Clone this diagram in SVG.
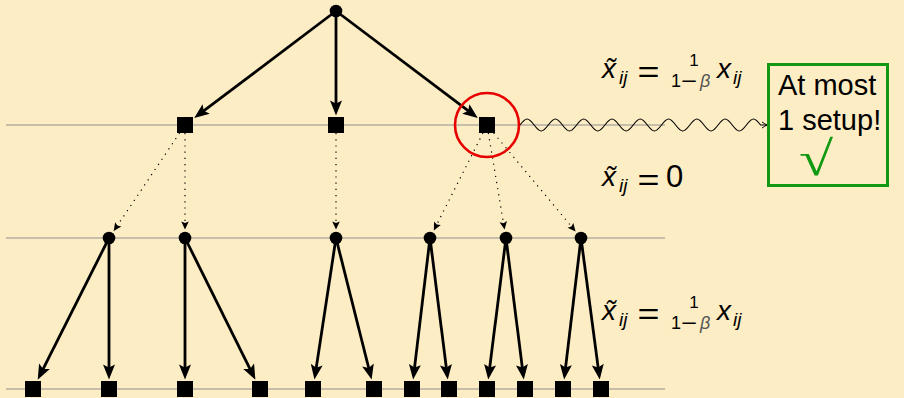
<svg xmlns="http://www.w3.org/2000/svg" width="904" height="398" viewBox="0 0 904 398">
<style>
.ln{stroke:#8f8f8f;stroke-width:1.2}
.arr{stroke:#000;stroke-width:2.8;fill:none;marker-end:url(#ah)}
.dot{stroke:#000;stroke-width:1.2;stroke-dasharray:1.2 5;fill:none;marker-end:url(#dh)}
.f{font-family:"Liberation Sans",Arial,sans-serif;fill:#000}
.it{font-style:italic}
</style>
<defs>
<marker id="ah" markerUnits="userSpaceOnUse" viewBox="0 0 16 14" markerWidth="16" markerHeight="14" refX="9" refY="6" orient="auto" overflow="visible"><path d="M0,0 L15,6 L0,12 L3,6 z" fill="#000"/></marker>
<marker id="dh" markerUnits="userSpaceOnUse" viewBox="0 0 9 8" markerWidth="9" markerHeight="8" refX="8" refY="3.75" orient="auto" overflow="visible"><path d="M0,0 L8,3.75 L0,7.5 L1.5,3.75 z" fill="#000"/></marker>
<marker id="wh" markerUnits="userSpaceOnUse" viewBox="-1 -1 8 8" markerWidth="8" markerHeight="8" refX="5" refY="3" orient="auto" overflow="visible"><path d="M0,0 Q3,2.2 5,3 Q3,3.8 0,6" fill="none" stroke="#000" stroke-width="1"/></marker>
</defs>
<rect width="904" height="398" fill="#fdedc4"/>
<g id="levels">
<line class="ln" x1="6" y1="125" x2="665" y2="125" stroke="#808080"/>
<line class="ln" x1="6" y1="238" x2="665" y2="238"/>
<line class="ln" x1="6" y1="389" x2="665" y2="389"/>
</g>
<g id="connectors">
<line class="arr" x1="336" y1="11" x2="198.99" y2="114.44"/>
<line class="arr" x1="336" y1="11" x2="336" y2="109.5"/>
<line class="arr" x1="336" y1="11" x2="473.01" y2="114.44"/>
<line class="dot" x1="179.62" y1="133" x2="113.74" y2="230.95"/>
<line class="dot" x1="185" y1="133" x2="185" y2="229.5"/>
<line class="dot" x1="336" y1="133" x2="336" y2="229.5"/>
<line class="dot" x1="482.96" y1="133" x2="433.83" y2="230.41"/>
<line class="dot" x1="488.35" y1="133" x2="504.59" y2="229.62"/>
<line class="dot" x1="493.66" y1="133" x2="575.56" y2="231.47"/>
<line class="arr" x1="109" y1="238" x2="40.40" y2="374.30"/>
<line class="arr" x1="109" y1="238" x2="109" y2="373.5"/>
<line class="arr" x1="185" y1="238" x2="185" y2="373.5"/>
<line class="arr" x1="185" y1="238" x2="252.69" y2="374.28"/>
<line class="arr" x1="336" y1="238" x2="315.35" y2="373.59"/>
<line class="arr" x1="336" y1="238" x2="370.16" y2="373.73"/>
<line class="arr" x1="430" y1="238" x2="413.84" y2="373.55"/>
<line class="arr" x1="430" y1="238" x2="447.05" y2="373.56"/>
<line class="arr" x1="506" y1="238" x2="488.95" y2="373.56"/>
<line class="arr" x1="506" y1="238" x2="523.05" y2="373.56"/>
<line class="arr" x1="581" y1="238" x2="564.84" y2="373.55"/>
<line class="arr" x1="581" y1="238" x2="598.96" y2="373.57"/>
<path id="wave" d="M520,125 c2.307,-3.074 4.514,-6 7.075,-6 s4.768,2.926 7.075,6 s4.514,6 7.075,6 s4.768,-2.926 7.075,-6 s4.514,-6 7.075,-6 s4.768,2.926 7.075,6 s4.514,6 7.075,6 s4.768,-2.926 7.075,-6 s4.514,-6 7.075,-6 s4.768,2.926 7.075,6 s4.514,6 7.075,6 s4.768,-2.926 7.075,-6 s4.514,-6 7.075,-6 s4.768,2.926 7.075,6 s4.514,6 7.075,6 s4.768,-2.926 7.075,-6 s4.514,-6 7.075,-6 s4.768,2.926 7.075,6 s4.514,6 7.075,6 s4.768,-2.926 7.075,-6 s4.514,-6 7.075,-6 s4.768,2.926 7.075,6 s4.514,6 7.075,6 s4.768,-2.926 7.075,-6 s4.514,-6 7.075,-6 s4.768,2.926 7.075,6 s4.514,6 7.075,6 s4.768,-2.926 7.075,-6 s4.514,-6 7.075,-6 s4.768,2.926 7.075,6 s4.514,6 7.075,6 s4.768,-2.926 7.075,-6 s4.514,-6 7.075,-6 s4.768,2.926 7.075,6 l6.5,0" fill="none" stroke="#000" stroke-width="1.1" marker-end="url(#wh)"/>
</g>
<g id="root"><circle cx="336" cy="11" r="6.3" fill="#000"/></g>
<g id="s1a"><rect x="177" y="117" width="16" height="16" fill="#000"/></g>
<g id="s1b"><rect x="328" y="117" width="16" height="16" fill="#000"/></g>
<g id="s1c"><rect x="479" y="117" width="16" height="16" fill="#000"/></g>
<g id="c2a"><circle cx="109" cy="238" r="6.3" fill="#000"/></g>
<g id="c2b"><circle cx="185" cy="238" r="6.3" fill="#000"/></g>
<g id="c2c"><circle cx="336" cy="238" r="6.3" fill="#000"/></g>
<g id="c2d"><circle cx="430" cy="238" r="6.3" fill="#000"/></g>
<g id="c2e"><circle cx="506" cy="238" r="6.3" fill="#000"/></g>
<g id="c2f"><circle cx="581" cy="238" r="6.3" fill="#000"/></g>
<g id="leaves" fill="#000">
<rect x="25" y="381" width="16" height="16"/>
<rect x="101" y="381" width="16" height="16"/>
<rect x="177" y="381" width="16" height="16"/>
<rect x="252" y="381" width="16" height="16"/>
<rect x="305" y="381" width="16" height="16"/>
<rect x="366" y="381" width="16" height="16"/>
<rect x="404" y="381" width="16" height="16"/>
<rect x="441" y="381" width="16" height="16"/>
<rect x="479" y="381" width="16" height="16"/>
<rect x="517" y="381" width="16" height="16"/>
<rect x="555" y="381" width="16" height="16"/>
<rect x="593" y="381" width="16" height="16"/>
</g>
<g id="highlight"><circle cx="487" cy="125" r="32" fill="none" stroke="#e60000" stroke-width="2.6"/></g>
<g id="eq1" class="f">
<text class="it" x="602" y="78" font-size="28">x̃</text>
<text class="it" x="619" y="84" font-size="19">ij</text>
<text x="637.5" y="81.7" font-size="30" textLength="22" lengthAdjust="spacingAndGlyphs">=</text>
<text x="694" y="66" font-size="17" text-anchor="middle">1</text>
<text x="671" y="87" font-size="18">1</text>
<text x="681" y="87" font-size="18" textLength="16" lengthAdjust="spacingAndGlyphs">−</text>
<text class="it" x="700" y="87" font-size="18" fill="#555">β</text>
<text class="it" x="717" y="78" font-size="28">x</text>
<text class="it" x="733" y="84" font-size="19">ij</text>
</g>
<g id="eq2" class="f">
<text class="it" x="602" y="186" font-size="28">x̃</text>
<text class="it" x="619" y="192" font-size="19">ij</text>
<text x="637.5" y="189.7" font-size="30" textLength="22" lengthAdjust="spacingAndGlyphs">=</text>
<text x="666" y="187" font-size="31">0</text>
</g>
<g id="eq3" class="f">
<text class="it" x="602" y="320" font-size="28">x̃</text>
<text class="it" x="619" y="326" font-size="19">ij</text>
<text x="637.5" y="323.7" font-size="30" textLength="22" lengthAdjust="spacingAndGlyphs">=</text>
<text x="694" y="308" font-size="17" text-anchor="middle">1</text>
<text x="671" y="329" font-size="18">1</text>
<text x="681" y="329" font-size="18" textLength="16" lengthAdjust="spacingAndGlyphs">−</text>
<text class="it" x="700" y="329" font-size="18" fill="#555">β</text>
<text class="it" x="717" y="320" font-size="28">x</text>
<text class="it" x="733" y="326" font-size="19">ij</text>
</g>
<g id="note">
<rect x="768.5" y="64.5" width="119" height="121" fill="none" stroke="#119911" stroke-width="3"/>
<text class="f" x="778" y="95" font-size="29">At most</text>
<text class="f" x="778" y="130" font-size="29">1 setup!</text>
<text transform="translate(799,175) scale(1.35,1.05)" font-family="Liberation Serif, serif" font-size="46" fill="#119911">√</text>
</g>
</svg>
